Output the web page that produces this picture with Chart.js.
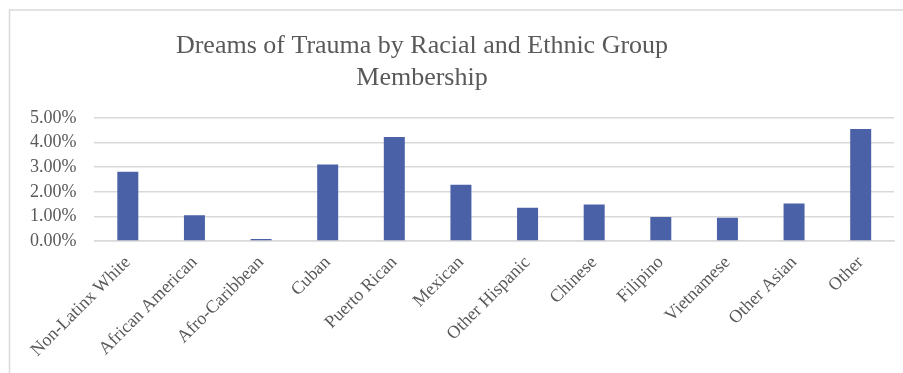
<!DOCTYPE html>
<html>
<head>
<meta charset="utf-8">
<script src="https://cdn.jsdelivr.net/npm/chart.js@4"></script>
<style>
  html, body { margin: 0; padding: 0; background: #fff; }
  #wrap { width: 903px; height: 373px; position: relative; }
</style>
</head>
<body>
<div id="wrap"><canvas id="chart"></canvas></div>
<script>
// groups and share of trauma dreams
const groups = ['Non-Latinx White', 'African American', 'Afro-Caribbean', 'Cuban', 'Puerto Rican',
  'Mexican', 'Other Hispanic', 'Chinese', 'Filipino', 'Vietnamese', 'Other Asian', 'Other'];
const traumaShare = [0.0281, 0.0105, 0.0008, 0.0311, 0.0423, 0.0229, 0.0135, 0.0148, 0.0098, 0.0095, 0.0152, 0.0455];
const titleLines = ['Dreams of Trauma by Racial and Ethnic Group', 'Membership'];

const serif = '"Liberation Serif", "DejaVu Serif", serif';
const grey = '#595959';

// frame and title drawn straight onto the canvas
const frameAndTitle = {
  id: 'frameAndTitle',
  beforeDraw(chart) {
    const ctx = chart.ctx;
    ctx.save();
    ctx.strokeStyle = '#D9D9D9';
    ctx.lineWidth = 1.5;
    ctx.beginPath();
    ctx.moveTo(903, 10);
    ctx.lineTo(9.5, 10);
    ctx.lineTo(9.5, 373);
    ctx.stroke();
    ctx.restore();
  },
  afterDraw(chart) {
    const ctx = chart.ctx;
    ctx.save();
    ctx.fillStyle = grey;
    ctx.font = '26px ' + serif;
    ctx.textAlign = 'center';
    ctx.textBaseline = 'alphabetic';
    ctx.fillText(titleLines[0], 422, 53);
    ctx.fillText(titleLines[1], 422, 85);
    ctx.restore();
  }
};

new Chart(document.getElementById('chart'), {
  type: 'bar',
  data: {
    labels: groups,
    datasets: [{
      data: traumaShare,
      backgroundColor: '#4A61A8',
      borderWidth: 0,
      barPercentage: 0.315,
      categoryPercentage: 1
    }]
  },
  plugins: [frameAndTitle],
  options: {
    responsive: true,
    maintainAspectRatio: false,
    animation: false,
    layout: { padding: { top: 118, left: 12, right: 9, bottom: 9 } },
    plugins: {
      legend: { display: false },
      title: { display: false },
      tooltip: { enabled: false }
    },
    scales: {
      x: {
        grid: { display: false, drawTicks: false },
        border: { color: '#D9D9D9', width: 1.5 },
        ticks: {
          color: grey,
          font: { family: serif, size: 18 },
          minRotation: 45,
          maxRotation: 45,
          autoSkip: false,
          padding: 11
        }
      },
      y: {
        min: 0,
        max: 0.05,
        grid: { color: '#D9D9D9', lineWidth: 1.5, drawTicks: false },
        border: { display: false },
        ticks: {
          stepSize: 0.01,
          autoSkip: false,
          color: grey,
          font: { family: serif, size: 18 },
          padding: 18,
          callback: v => (v * 100).toFixed(2) + '%'
        }
      }
    }
  }
});
</script>
</body>
</html>
